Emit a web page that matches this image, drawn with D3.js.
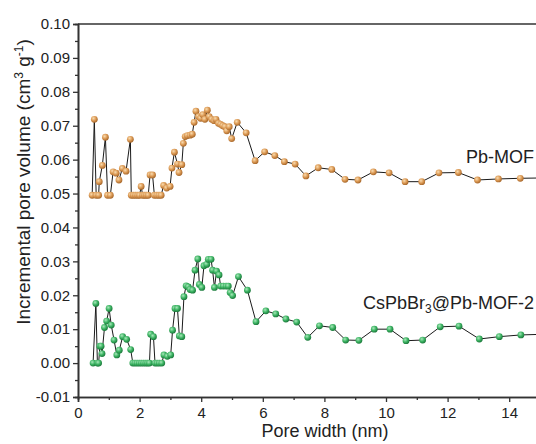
<!DOCTYPE html>
<html>
<head>
<meta charset="utf-8">
<script src="https://cdn.jsdelivr.net/npm/d3@7"></script>
<style>
  body { margin: 0; background: #fff; }
  text { font-family: "Liberation Sans", Arial, sans-serif; fill: #222; }
</style>
</head>
<body>
<div id="chart"></div>
<script>
// Pb-MOF (offset series)
const pbWidth = [
  0.46,0.53,0.59,0.67,0.69,0.79,0.89,0.96,1.05,1.14,
  1.24,1.33,1.44,1.56,1.70,1.73,1.80,1.87,1.94,2.00,
  2.05,2.10,2.16,2.22,2.28,2.34,2.42,2.48,2.56,2.63,
  2.70,2.78,2.88,2.99,3.05,3.13,3.23,3.28,3.37,3.42,
  3.48,3.55,3.64,3.71,3.77,3.83,3.91,3.98,4.05,4.12,
  4.20,4.26,4.34,4.42,4.48,4.56,4.63,4.70,4.77,4.83,
  4.91,4.99,5.17,5.46,5.75,6.06,6.39,6.70,7.05,7.40,
  7.80,8.24,8.67,9.09,9.59,10.10,10.62,11.16,11.72,12.35,
  12.97,13.65,14.36,15.10
];
const pbVolume = [
  0.0495,0.0719,0.0495,0.0495,0.0535,0.0583,0.0666,0.0495,0.0495,0.0564,
  0.0560,0.0540,0.0574,0.0566,0.0660,0.0495,0.0495,0.0495,0.0495,0.0495,
  0.0521,0.0495,0.0495,0.0495,0.0495,0.0555,0.0555,0.0495,0.0495,0.0495,
  0.0495,0.0524,0.0516,0.0521,0.0575,0.0622,0.0587,0.0562,0.0585,0.0648,
  0.0668,0.0671,0.0672,0.0675,0.0710,0.0743,0.0727,0.0722,0.0733,0.0719,
  0.0746,0.0727,0.0719,0.0715,0.0719,0.0707,0.0704,0.0700,0.0697,0.0685,
  0.0697,0.0662,0.0710,0.0679,0.0597,0.0623,0.0612,0.0594,0.0587,0.0552,
  0.0576,0.0571,0.0542,0.0540,0.0564,0.0561,0.0535,0.0535,0.0561,0.0562,
  0.0540,0.0543,0.0545,0.0546
];

// CsPbBr3@Pb-MOF-2
const csWidth = [
  0.49,0.58,0.63,0.67,0.71,0.75,0.78,0.86,0.93,1.01,
  1.08,1.17,1.26,1.34,1.45,1.58,1.71,1.78,1.85,1.92,
  1.99,2.06,2.13,2.20,2.26,2.32,2.36,2.45,2.50,2.57,
  2.64,2.72,2.79,2.90,3.01,3.07,3.15,3.23,3.29,3.37,
  3.44,3.51,3.58,3.64,3.72,3.80,3.89,3.94,4.02,4.09,
  4.18,4.23,4.32,4.37,4.43,4.50,4.58,4.63,4.72,4.81,
  4.88,4.94,5.02,5.21,5.50,5.78,6.10,6.42,6.75,7.10,
  7.46,7.84,8.27,8.69,9.12,9.62,10.13,10.65,11.19,11.76,
  12.37,13.03,13.68,14.38,15.10
];
const csVolume = [
  0,0.0176,0,0,0.0050,0.0050,0.0028,0.0105,0.0124,0.0161,
  0.0112,0.0068,0.0024,0.0038,0.0078,0.0070,0.0040,0,0,0,
  0,0,0,0,0,0,0.0085,0.0078,0,0,
  0,0,0.0024,0.0020,0.0024,0.0097,0.0161,0.0161,0.0080,0.0078,
  0.0196,0.0228,0.0225,0.0217,0.0215,0.0274,0.0307,0.0232,0.0223,0.0287,
  0.0291,0.0306,0.0306,0.0274,0.0223,0.0271,0.0260,0.0227,0.0227,0.0227,
  0.0227,0.0208,0.0199,0.0255,0.0215,0.0122,0.0154,0.0145,0.0130,0.0121,
  0.0076,0.0110,0.0105,0.0068,0.0067,0.0100,0.0100,0.0066,0.0068,0.0107,
  0.0109,0.0071,0.0078,0.0083,0.0085
];

const xTicks = [0, 2, 4, 6, 8, 10, 12, 14];
const xMinorTicks = [1, 3, 5, 7, 9, 11, 13];
const yTicks = [-0.01, 0, 0.01, 0.02, 0.03, 0.04, 0.05, 0.06, 0.07, 0.08, 0.09, 0.10];
const yMinorTicks = [-0.005, 0.005, 0.015, 0.025, 0.035, 0.045, 0.055, 0.065, 0.075, 0.085, 0.095];

const width = 536, height = 444;
const margin = { top: 24, right: -4, bottom: 47, left: 78 };

const svg = d3.select('#chart').append('svg')
  .attr('width', width)
  .attr('height', height);

const x = d3.scaleLinear().domain([0, 15])
  .range([margin.left, width - margin.right]);
const y = d3.scaleLinear().domain([-0.01, 0.10])
  .range([height - margin.bottom, margin.top]);

// sphere-like marker fills
const defs = svg.append('defs');
function sphere(id, light, mid, dark) {
  const g = defs.append('radialGradient').attr('id', id)
    .attr('cx', '38%').attr('cy', '35%').attr('r', '65%');
  g.append('stop').attr('offset', '0%').attr('stop-color', light);
  g.append('stop').attr('offset', '55%').attr('stop-color', mid);
  g.append('stop').attr('offset', '100%').attr('stop-color', dark);
}
sphere('ballOrange', '#f9dcb0', '#dc9a55', '#a9692c');
sphere('ballGreen', '#a9e8bb', '#3db463', '#1c7a3c');

const series = [
  { data: d3.zip(pbWidth, pbVolume), fill: 'url(#ballOrange)' },
  { data: d3.zip(csWidth, csVolume), fill: 'url(#ballGreen)' }
];

const line = d3.line().x(d => x(d[0])).y(d => y(d[1]));

series.forEach(s => {
  svg.append('path')
    .datum(s.data)
    .attr('fill', 'none')
    .attr('stroke', '#1a1a1a')
    .attr('stroke-width', 1)
    .attr('d', line);
});
series.forEach(s => {
  svg.append('g').selectAll('circle')
    .data(s.data)
    .enter()
    .append('circle')
    .attr('cx', d => x(d[0]))
    .attr('cy', d => y(d[1]))
    .attr('r', 3.4)
    .attr('fill', s.fill);
});

// axes
const axisColor = '#333';
svg.append('g')
  .attr('transform', `translate(0, ${height - margin.bottom})`)
  .call(d3.axisBottom(x).tickValues(xTicks).tickSize(5).tickPadding(5).tickFormat(d3.format('d')));
svg.append('g')
  .attr('transform', `translate(0, ${height - margin.bottom})`)
  .call(d3.axisBottom(x).tickValues(xMinorTicks).tickSize(3).tickFormat(''));

const fmtY = d => d3.format('.2f')(d).replace('\u2212', '-');
svg.append('g')
  .attr('transform', `translate(${margin.left}, 0)`)
  .call(d3.axisLeft(y).tickValues(yTicks).tickSize(5).tickPadding(3).tickFormat(fmtY));
svg.append('g')
  .attr('transform', `translate(${margin.left}, 0)`)
  .call(d3.axisLeft(y).tickValues(yMinorTicks).tickSize(3).tickFormat(''));

svg.selectAll('.domain, .tick line')
  .attr('stroke', axisColor)
  .attr('stroke-width', 1.3);
svg.selectAll('.domain').attr('stroke-width', 1.6);
svg.selectAll('.tick text')
  .style('font-size', '15px')
  .style('font-family', '"Liberation Sans", Arial, sans-serif')
  .attr('fill', '#222');

// top frame line
svg.append('line')
  .attr('x1', margin.left).attr('x2', width)
  .attr('y1', y(0.10)).attr('y2', y(0.10))
  .attr('stroke', axisColor).attr('stroke-width', 1.6);

// axis titles
svg.append('text')
  .attr('x', 325)
  .attr('y', 437)
  .attr('text-anchor', 'middle')
  .style('font-size', '18px')
  .text('Pore width (nm)');

const yt = svg.append('text')
  .attr('transform', 'translate(30, 182) rotate(-90)')
  .attr('text-anchor', 'middle')
  .style('font-size', '19px');
yt.append('tspan').text('Incremental pore volume (cm');
yt.append('tspan').attr('dy', -7).style('font-size', '12px').text('3');
yt.append('tspan').attr('dy', 7).text(' g');
yt.append('tspan').attr('dy', -7).style('font-size', '12px').text('-1');
yt.append('tspan').attr('dy', 7).text(')');

// series labels
svg.append('text')
  .attr('x', 534).attr('y', 163)
  .attr('text-anchor', 'end')
  .style('font-size', '18px')
  .text('Pb-MOF');

const cs = svg.append('text')
  .attr('x', 534).attr('y', 309)
  .attr('text-anchor', 'end')
  .style('font-size', '18px');
cs.append('tspan').text('CsPbBr');
cs.append('tspan').attr('dy', 4).style('font-size', '12px').text('3');
cs.append('tspan').attr('dy', -4).text('@Pb-MOF-2');
</script>
</body>
</html>
